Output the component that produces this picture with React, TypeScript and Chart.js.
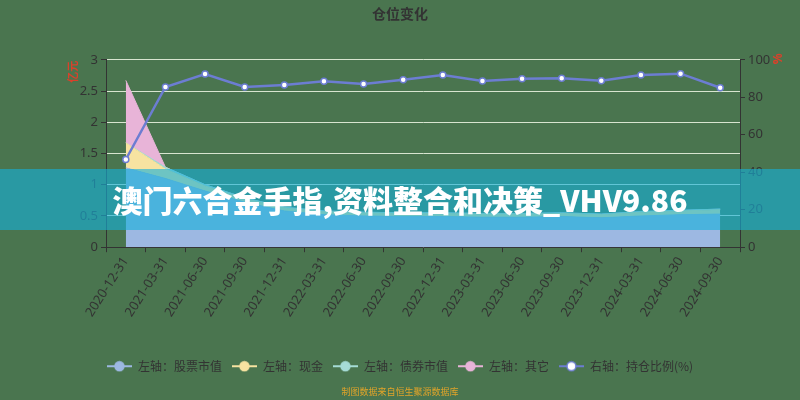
import React, { useEffect, useRef } from "react";
import { Chart, registerables } from "chart.js";

Chart.register(...registerables);

const chartTitle = "仓位变化";
const sourceNote = "制图数据来自恒生聚源数据库";
const bannerText = "澳门六合金手指,资料整合和决策_VHV9.86";
const leftAxisName = "亿元";
const rightAxisName = "%";

const categories = [
  "2020-12-31", "2021-03-31", "2021-06-30", "2021-09-30",
  "2021-12-31", "2022-03-31", "2022-06-30", "2022-09-30",
  "2022-12-31", "2023-03-31", "2023-06-30", "2023-09-30",
  "2023-12-31", "2024-03-31", "2024-06-30", "2024-09-30",
];

const stockValues = [1.27, 1.1, 0.9, 0.72, 0.58, 0.52, 0.5, 0.49, 0.49, 0.48, 0.48, 0.49, 0.47, 0.5, 0.52, 0.53];
const cashValues = [0.4, 0.15, 0.08, 0.06, 0.05, 0.05, 0.05, 0.05, 0.05, 0.05, 0.05, 0.05, 0.05, 0.06, 0.06, 0.07];
const bondValues = [0.0, 0.03, 0.02, 0.01, 0.01, 0.01, 0.01, 0.01, 0.01, 0.01, 0.01, 0.01, 0.01, 0.01, 0.01, 0.01];
const otherValues = [1.0, 0.0, 0.0, 0.0, 0.0, 0.0, 0.0, 0.0, 0.0, 0.0, 0.0, 0.0, 0.0, 0.0, 0.0, 0.0];
const positionRatio = [46.8, 85.5, 92.4, 85.5, 86.5, 88.5, 87.1, 89.4, 91.9, 88.7, 89.9, 90.1, 88.8, 91.9, 92.6, 85.1];

const seriesNames = ["左轴：股票市值", "左轴：现金", "左轴：债券市值", "左轴：其它", "右轴：持仓比例(%)"];

const leftMin = 0;
const leftMax = 3;
const leftStep = 0.5;
const rightMin = 0;
const rightMax = 100;
const rightStep = 20;

const BG = "#4a754f";
const DARK = "#333333";
const RED = "#d9412b";
const GRID = "rgba(232,242,222,0.9)";
const STOCK = "#9db8e2";
const CASH = "#f7e3a1";
const BOND = "#a6dcd6";
const OTHER = "#e8b4d8";
const LINE = "#6c7dd2";
const FONT = '"Noto Sans", "Noto Sans CJK SC", sans-serif';
const CJK = '"Noto Sans CJK SC", "Noto Sans", sans-serif';

function makeIcon(color: string, fill: string): HTMLCanvasElement {
  const c = document.createElement("canvas");
  c.width = 25;
  c.height = 12;
  const g = c.getContext("2d")!;
  g.strokeStyle = color;
  g.lineWidth = 2;
  g.beginPath();
  g.moveTo(0, 6);
  g.lineTo(25, 6);
  g.stroke();
  g.beginPath();
  g.arc(12.5, 6, 4.5, 0, Math.PI * 2);
  g.fillStyle = fill;
  g.fill();
  g.lineWidth = 1.5;
  g.stroke();
  return c;
}

const axisNamePlugin = {
  id: "axisNames",
  afterDraw(chart: any) {
    const ctx = chart.ctx;
    const top = chart.chartArea.top;
    ctx.save();
    ctx.fillStyle = RED;
    ctx.font = `bold 11px ${CJK}`;
    ctx.textAlign = "center";
    ctx.textBaseline = "middle";
    ctx.translate(73, top + 12);
    ctx.rotate(-Math.PI / 2);
    ctx.fillText(leftAxisName, 0, 0);
    ctx.restore();
    ctx.save();
    ctx.fillStyle = RED;
    ctx.font = `bold 12px ${FONT}`;
    ctx.textAlign = "center";
    ctx.textBaseline = "middle";
    ctx.translate(779, top - 1);
    ctx.rotate(-Math.PI / 2);
    ctx.fillText(rightAxisName, 0, 0);
    ctx.restore();
  },
};

export default function App() {
  const ref = useRef<HTMLCanvasElement | null>(null);

  useEffect(() => {
    if (!ref.current) return;
    const areaColors = [STOCK, CASH, BOND, OTHER];
    const areaData = [stockValues, cashValues, bondValues, otherValues];
    const areaSets = areaData.map((d, i) => ({
      type: "line" as const,
      label: seriesNames[i],
      data: d,
      yAxisID: "y",
      backgroundColor: areaColors[i],
      borderColor: areaColors[i],
      borderWidth: 1,
      pointRadius: 0,
      tension: 0,
      fill: i === 0 ? "origin" : "-1",
      order: 1,
    }));
    const icons = [
      makeIcon(STOCK, STOCK),
      makeIcon(CASH, CASH),
      makeIcon(BOND, BOND),
      makeIcon(OTHER, OTHER),
      makeIcon(LINE, "#ffffff"),
    ];
    const chart = new Chart(ref.current, {
      type: "line",
      data: {
        labels: categories,
        datasets: [
          ...areaSets,
          {
            type: "line",
            label: seriesNames[4],
            data: positionRatio,
            yAxisID: "y1",
            borderColor: LINE,
            borderWidth: 2.5,
            pointRadius: 3,
            pointBackgroundColor: "#ffffff",
            pointBorderColor: LINE,
            pointBorderWidth: 1.5,
            fill: false,
            tension: 0,
            order: 0,
          },
        ] as any,
      },
      options: {
        responsive: false,
        animation: false,
        devicePixelRatio: 1,
        layout: { padding: 0 },
        scales: {
          x: {
            type: "category",
            offset: true,
            grid: {
              offset: true,
              drawOnChartArea: false,
              tickLength: 5,
              tickColor: DARK,
            },
            border: { color: DARK },
            ticks: {
              autoSkip: false,
              minRotation: 57,
              maxRotation: 57,
              color: DARK,
              font: { size: 13, family: FONT },
              padding: 2,
            },
            afterFit: (s: any) => {
              s.height = 103;
            },
          },
          y: {
            position: "left",
            stacked: true,
            min: leftMin,
            max: leftMax,
            ticks: {
              stepSize: leftStep,
              color: DARK,
              font: { size: 13, family: FONT },
              padding: 3,
              callback: (v: any) => String(v),
            },
            grid: { color: GRID, tickColor: DARK, tickLength: 5, lineWidth: 1 },
            border: { color: DARK },
            afterFit: (s: any) => {
              s.width = 106;
            },
          },
          y1: {
            position: "right",
            stacked: false,
            min: rightMin,
            max: rightMax,
            ticks: {
              stepSize: rightStep,
              color: DARK,
              font: { size: 13, family: FONT },
              padding: 3,
            },
            grid: { drawOnChartArea: false, tickColor: DARK, tickLength: 5 },
            border: { color: DARK },
            afterFit: (s: any) => {
              s.width = 60;
            },
          },
        },
        plugins: {
          title: {
            display: true,
            text: chartTitle,
            color: DARK,
            font: { size: 14, weight: "bold", family: CJK },
            padding: { top: 5, bottom: 38 },
          },
          subtitle: {
            display: true,
            text: sourceNote,
            position: "bottom",
            color: "#e0a42a",
            font: { size: 9, family: CJK },
            padding: { top: 4, bottom: 3 },
          },
          legend: {
            position: "bottom",
            labels: {
              usePointStyle: true,
              pointStyleWidth: 25,
              boxHeight: 12,
              padding: 10,
              color: DARK,
              font: { size: 12, family: CJK },
              generateLabels: () =>
                seriesNames.map((name, i) => ({
                  text: name,
                  fillStyle: "transparent",
                  strokeStyle: "transparent",
                  lineWidth: 0,
                  pointStyle: icons[i],
                  datasetIndex: i,
                  hidden: false,
                  fontColor: DARK,
                })) as any,
            },
          },
          tooltip: { enabled: false },
        },
      } as any,
      plugins: [axisNamePlugin],
    });
    return () => chart.destroy();
  }, []);

  return (
    <div
      style={{
        position: "absolute",
        left: 0,
        top: 0,
        width: 800,
        height: 400,
        background: BG,
        overflow: "hidden",
      }}
    >
      <canvas ref={ref} width={800} height={400} style={{ display: "block" }} />
      <div
        style={{
          position: "absolute",
          left: 0,
          top: 169,
          width: 800,
          height: 61,
          background: "rgba(22,177,218,0.61)",
          color: "#ffffff",
          fontFamily: CJK,
          fontWeight: 900,
          fontSize: 30,
          lineHeight: "61px",
          textAlign: "center",
          whiteSpace: "nowrap",
        }}
      >
        {bannerText}
      </div>
    </div>
  );
}
